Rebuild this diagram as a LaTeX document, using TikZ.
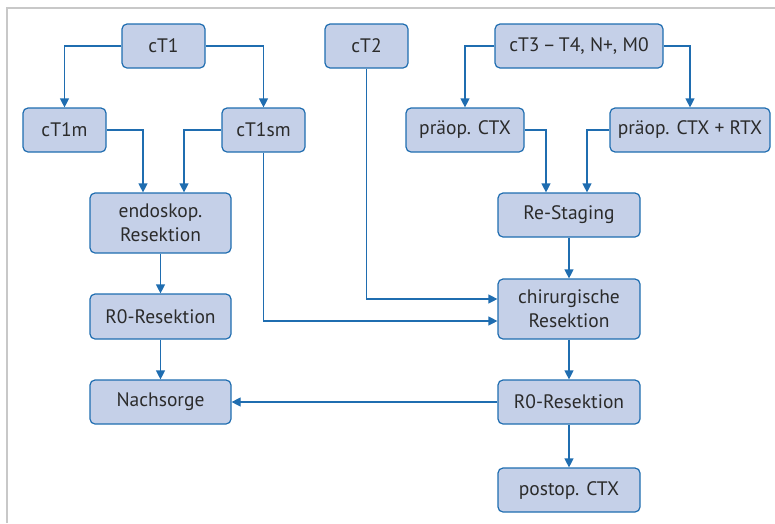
\documentclass[tikz,border=0pt]{standalone}
\usepackage{fontspec}
\setmainfont{PT Sans}
\usetikzlibrary{arrows.meta}
\definecolor{boxfill}{HTML}{C5D0E8}
\definecolor{boxline}{HTML}{1F6DB0}
\definecolor{txt}{HTML}{2B2B2B}
\definecolor{frame}{HTML}{C8C8C8}
\tikzset{
  box/.style={draw=boxline, fill=boxfill, line width=1.2pt, rounded corners=5pt,
    text=txt, align=center, inner sep=0pt, font=\fontsize{19.5}{24}\selectfont},
  conn/.style={draw=boxline, line width=1.2pt, -{Triangle[length=9pt,width=9pt]}},
  plain/.style={draw=boxline, line width=1.2pt}
}
\begin{document}
\begin{tikzpicture}[x=1pt,y=-1pt]
\useasboundingbox (0,0) rectangle (775,523);
\draw[frame, line width=2pt] (7,523) -- (7,8) -- (775,8);
% nodes
\node[box, minimum width=83, minimum height=44] (ct1) at (163.5,46) {cT1};
\node[box, minimum width=83, minimum height=44] (ct2) at (366.5,46) {cT2};
\node[box, minimum width=168, minimum height=44] (ct3) at (579,46) {cT3\,–\,T4, N+, M0};
\node[box, minimum width=83, minimum height=44] (ct1m) at (64.5,130) {cT1m};
\node[box, minimum width=83, minimum height=44] (ct1sm) at (263.5,130) {cT1sm};
\node[box, minimum width=118, minimum height=44] (pctx) at (465,130) {präop. CTX};
\node[box, minimum width=160, minimum height=44] (prtx) at (690,130) {präop. CTX + RTX};
\node[box, minimum width=141, minimum height=60] (endo) at (160.5,223) {endoskop.\\Resektion};
\node[box, minimum width=142, minimum height=44] (rest) at (569,215) {Re-Staging};
\node[box, minimum width=141, minimum height=45] (r0l) at (160.5,316.5) {R0-Resektion};
\node[box, minimum width=142, minimum height=60] (chir) at (569,309) {chirurgische\\Resektion};
\node[box, minimum width=141, minimum height=44] (nach) at (160.5,402) {Nachsorge};
\node[box, minimum width=142, minimum height=44] (r0r) at (569,402) {R0-Resektion};
\node[box, minimum width=142, minimum height=44] (post) at (569,490) {postop. CTX};
% connectors
\draw[conn] (ct1.west) -| (ct1m.north);
\draw[conn] (ct1.east) -| (ct1sm.north);
\draw[conn] (ct1m.east) -| ([xshift=-17.5]endo.north);
\draw[conn] (ct1sm.west) -| ([xshift=23.5]endo.north);
\draw[conn] (ct1sm.south) |- ([yshift=-12]chir.west);
\draw[conn] (ct2.south) |- ([yshift=10]chir.west);
\draw[conn] (ct3.west) -| (pctx.north);
\draw[conn] (ct3.east) -| (prtx.north);
\draw[conn] (pctx.east) -| ([xshift=-23]rest.north);
\draw[conn] (prtx.west) -| ([xshift=18]rest.north);
\draw[conn] (rest) -- (chir);
\draw[conn] (endo) -- (r0l);
\draw[conn] (r0l) -- (nach);
\draw[conn] (chir) -- (r0r);
\draw[conn] (r0r) -- (nach);
\draw[conn] (r0r) -- (post);
\end{tikzpicture}
\end{document}
